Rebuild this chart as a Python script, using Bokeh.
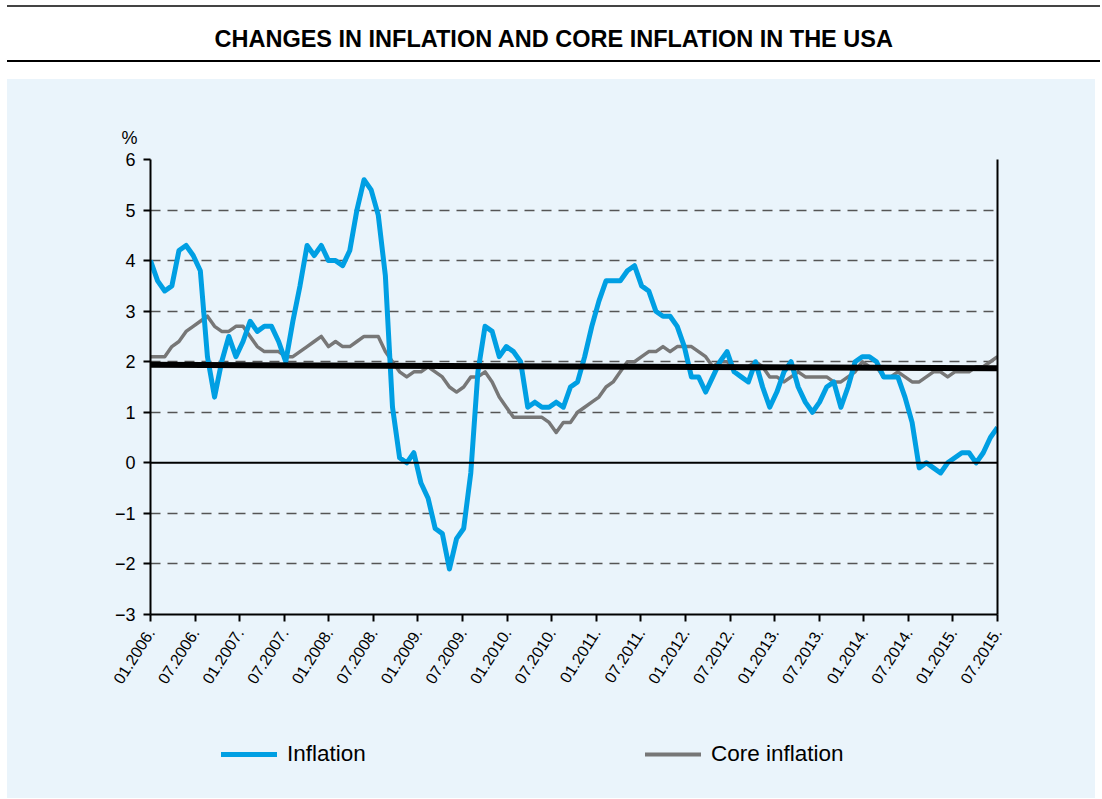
import numpy as np
from bokeh.plotting import figure
from bokeh.models import (Range1d, FixedTicker, LinearAxis, Span, Legend, LegendItem, Title)
from bokeh.layouts import column
from bokeh.embed import file_html
from bokeh.resources import INLINE

# ---------------- data ----------------
title_text = "CHANGES IN INFLATION AND CORE INFLATION IN THE USA"
# monthly values, 01.2006 - 12.2015 (year-on-year, %)
inflation = [
    4.0, 3.6, 3.4, 3.5, 4.2, 4.3, 4.1, 3.8, 2.1, 1.3, 2.0, 2.5,
    2.1, 2.4, 2.8, 2.6, 2.7, 2.7, 2.4, 2.0, 2.8, 3.5, 4.3, 4.1,
    4.3, 4.0, 4.0, 3.9, 4.2, 5.0, 5.6, 5.4, 4.9, 3.7, 1.1, 0.1,
    0.0, 0.2, -0.4, -0.7, -1.3, -1.4, -2.1, -1.5, -1.3, -0.2, 1.8, 2.7,
    2.6, 2.1, 2.3, 2.2, 2.0, 1.1, 1.2, 1.1, 1.1, 1.2, 1.1, 1.5,
    1.6, 2.1, 2.7, 3.2, 3.6, 3.6, 3.6, 3.8, 3.9, 3.5, 3.4, 3.0,
    2.9, 2.9, 2.7, 2.3, 1.7, 1.7, 1.4, 1.7, 2.0, 2.2, 1.8, 1.7,
    1.6, 2.0, 1.5, 1.1, 1.4, 1.8, 2.0, 1.5, 1.2, 1.0, 1.2, 1.5,
    1.6, 1.1, 1.5, 2.0, 2.1, 2.1, 2.0, 1.7, 1.7, 1.7, 1.3, 0.8,
    -0.1, 0.0, -0.1, -0.2, 0.0, 0.1, 0.2, 0.2, 0.0, 0.2, 0.5, 0.7,
]
core_inflation = [
    2.1, 2.1, 2.1, 2.3, 2.4, 2.6, 2.7, 2.8, 2.9, 2.7, 2.6, 2.6,
    2.7, 2.7, 2.5, 2.3, 2.2, 2.2, 2.2, 2.1, 2.1, 2.2, 2.3, 2.4,
    2.5, 2.3, 2.4, 2.3, 2.3, 2.4, 2.5, 2.5, 2.5, 2.2, 2.0, 1.8,
    1.7, 1.8, 1.8, 1.9, 1.8, 1.7, 1.5, 1.4, 1.5, 1.7, 1.7, 1.8,
    1.6, 1.3, 1.1, 0.9, 0.9, 0.9, 0.9, 0.9, 0.8, 0.6, 0.8, 0.8,
    1.0, 1.1, 1.2, 1.3, 1.5, 1.6, 1.8, 2.0, 2.0, 2.1, 2.2, 2.2,
    2.3, 2.2, 2.3, 2.3, 2.3, 2.2, 2.1, 1.9, 2.0, 2.0, 1.9, 1.9,
    1.9, 2.0, 1.9, 1.7, 1.7, 1.6, 1.7, 1.8, 1.7, 1.7, 1.7, 1.7,
    1.6, 1.6, 1.7, 1.8, 2.0, 1.9, 1.9, 1.7, 1.7, 1.8, 1.7, 1.6,
    1.6, 1.7, 1.8, 1.8, 1.7, 1.8, 1.8, 1.8, 1.9, 1.9, 2.0, 2.1,
]
trend_values = [1.94, 1.87]   # thick black trend line, first and last month
x_tick_labels = [
    "01.2006.", "07.2006.", "01.2007.", "07.2007.", "01.2008.", "07.2008.",
    "01.2009.", "07.2009.", "01.2010.", "07.2010.", "01.2011.", "07.2011.",
    "01.2012.", "07.2012.", "01.2013.", "07.2013.", "01.2014.", "07.2014.",
    "01.2015.", "07.2015.",
]
y_ticks = [-3, -2, -1, 0, 1, 2, 3, 4, 5, 6]
y_tick_labels = ["\u22123", "\u22122", "\u22121", "0", "1", "2", "3", "4", "5", "6"]
series_names = ["Inflation", "Core inflation"]

# ---------------- style ----------------
BG = "#EAF4FB"
BLUE = "#009FE3"
GREY = "#777777"
FONT = "Liberation Sans"

n = len(inflation)
months = list(range(n))
tick_pos = [float(v) for v in np.linspace(0, n - 1, len(x_tick_labels))]

page_bg = ("linear-gradient(#444444,#444444) 7px 5px / 1093px 2px no-repeat, "
           "linear-gradient(#000000,#000000) 7px 60px / 1093px 2px no-repeat, "
           "linear-gradient(" + BG + "," + BG + ") 7px 79px / 1088px 719px no-repeat, #ffffff")

p = figure(frame_width=847, frame_height=455,
           x_range=Range1d(0, n - 1), y_range=Range1d(-3, 6),
           output_backend="svg", toolbar_location=None,
           background_fill_color=BG, border_fill_color=None,
           min_border_left=150, min_border_right=103, min_border_top=159, min_border_bottom=100,
           outline_line_color=None)

# titles: first added sits closest to the frame
p.add_layout(Title(text="%", align="left", offset=-29, standoff=24,
                   text_font=FONT, text_font_size="18px", text_font_style="normal",
                   text_color="black"), "above")
p.add_layout(Title(text=" ", align="left", standoff=30,
                   text_font=FONT, text_font_size="10px"), "above")
p.add_layout(Title(text=title_text, align="left", offset=64, standoff=38,
                   text_font=FONT, text_font_size="23.5px", text_font_style="bold",
                   text_color="black"), "above")

p.xgrid.visible = False
p.ygrid.ticker = FixedTicker(ticks=[-2, -1, 1, 2, 3, 4, 5, 6])
p.ygrid.grid_line_color = "#555555"
p.ygrid.grid_line_width = 1.3
p.ygrid.grid_line_dash = "10 7"

p.yaxis.ticker = FixedTicker(ticks=y_ticks)
p.yaxis.major_label_overrides = {v: s for v, s in zip(y_ticks, y_tick_labels)}
p.xaxis.ticker = FixedTicker(ticks=tick_pos)
p.xaxis.major_label_overrides = {v: s for v, s in zip(tick_pos, x_tick_labels)}
p.xaxis.major_label_orientation = 1.0

for ax in (p.xaxis, p.yaxis):
    ax.axis_line_color = "black"
    ax.axis_line_width = 2
    ax.major_tick_line_color = "black"
    ax.major_tick_line_width = 2
    ax.major_tick_in = 0
    ax.major_tick_out = 7
    ax.minor_tick_line_color = None
    ax.major_label_text_font = FONT
    ax.major_label_text_color = "black"
p.yaxis.major_label_text_font_size = "18px"
p.xaxis.major_label_text_font_size = "16px"
p.yaxis.major_label_standoff = 8
p.xaxis.major_label_standoff = 8

right_axis = LinearAxis(axis_line_color="black", axis_line_width=2,
                        major_tick_line_color=None, minor_tick_line_color=None,
                        major_label_text_color=None)
p.add_layout(right_axis, "right")

# zero line
p.add_layout(Span(location=0, dimension="width", line_color="black", line_width=2))

p.line(months, core_inflation, line_color=GREY, line_width=3.5, line_join="round")
p.line(months, inflation, line_color=BLUE, line_width=5, line_join="round")
p.line([0, n - 1], trend_values, line_color="black", line_width=6)

# ---------------- legend strip (below the chart) ----------------
# the same series are drawn here outside the visible range, only to give the
# legend its line swatches
lg = figure(frame_width=847, frame_height=84,
            x_range=Range1d(n + 100, n + 101), y_range=Range1d(0, 1),
            x_axis_type=None, y_axis_type=None,
            output_backend="svg", toolbar_location=None,
            background_fill_color=None, border_fill_color=None,
            min_border_left=150, min_border_right=103, min_border_top=0, min_border_bottom=0,
            outline_line_color=None)
lg.grid.visible = False
sw_inf = lg.line(months, inflation, line_color=BLUE, line_width=5, line_cap="round")
sw_core = lg.line(months, core_inflation, line_color=GREY, line_width=4, line_cap="round")
legend = Legend(items=[LegendItem(label=series_names[0], renderers=[sw_inf]),
                       LegendItem(label=series_names[1], renderers=[sw_core])],
                orientation="horizontal", location=(71, 31),
                background_fill_alpha=0, border_line_color=None,
                glyph_width=56, glyph_height=20, label_height=20, label_width=140,
                label_standoff=10, spacing=218, padding=0, margin=0,
                label_text_font=FONT, label_text_font_size="22.5px",
                label_text_color="black")
lg.add_layout(legend)

layout = column(p, lg, spacing=0, styles={"background": page_bg})
open("out.html", "w").write(file_html(layout, INLINE))
